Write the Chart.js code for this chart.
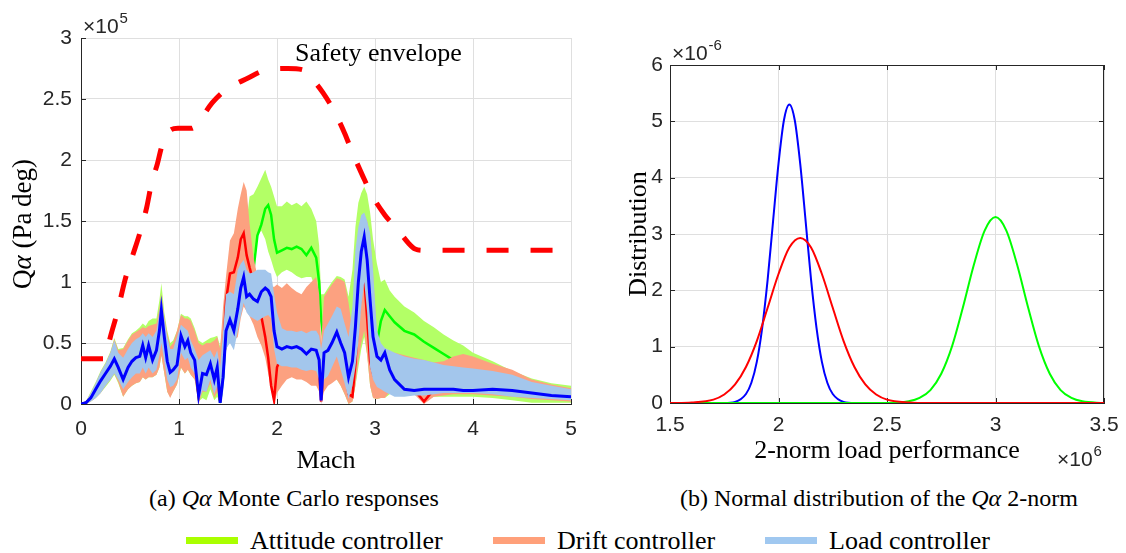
<!DOCTYPE html>
<html>
<head>
<meta charset="utf-8">
<title>Qα Monte Carlo responses</title>
<script src="https://cdn.jsdelivr.net/npm/chart.js@4.4.1/dist/chart.umd.min.js"></script>
<style>
  body { margin: 0; width: 1126px; height: 553px; background: #fff; position: relative; overflow: hidden;
         font-family: "Liberation Serif", "Times New Roman", serif; color: #000; }
  .panel { position: absolute; top: 0; height: 480px; }
  #panelA { left: 0; width: 600px; }
  #panelB { left: 600px; width: 526px; }
  .caption { position: absolute; top: 486px; font-family: "Liberation Serif", "Times New Roman", serif;
             font-size: 24px; line-height: 24px; white-space: nowrap; }
  .legend-text { position: absolute; top: 528px; font-family: "Liberation Serif", "Times New Roman", serif;
                 font-size: 26px; line-height: 26px; white-space: nowrap; }
  .swatch { position: absolute; top: 537px; width: 52px; height: 7px; }
</style>
</head>
<body>
<div class="panel" id="panelA"><canvas id="chartA"></canvas></div>
<div class="panel" id="panelB"><canvas id="chartB"></canvas></div>
<div class="caption" style="left:149px">(a) <i>Qα</i> Monte Carlo responses</div>
<div class="caption" style="left:680px">(b) Normal distribution of the <i>Qα</i> 2-norm</div>
<div id="legend"></div>

<script>
// ── (a) Monte Carlo bands, Qα in 1e5 Pa·deg over Mach ──
const machGrid = [
  0, 0.05, 0.1, 0.15, 0.2, 0.25, 0.3, 0.34, 0.38, 0.43,
  0.48, 0.52, 0.56, 0.6, 0.63, 0.66, 0.69, 0.73, 0.77, 0.8,
  0.82, 0.85, 0.88, 0.91, 0.94, 0.98, 1.02, 1.06, 1.09, 1.12,
  1.16, 1.2, 1.24, 1.28, 1.32, 1.36, 1.39, 1.42, 1.45, 1.48,
  1.52, 1.56, 1.6, 1.63, 1.66, 1.69, 1.72, 1.76, 1.8, 1.84,
  1.88, 1.91, 1.94, 1.97, 2.0, 2.05, 2.1, 2.15, 2.2, 2.25,
  2.3, 2.35, 2.4, 2.43, 2.45, 2.48, 2.52, 2.56, 2.61, 2.65,
  2.69, 2.73, 2.77, 2.8, 2.83, 2.86, 2.89, 2.92, 2.95, 2.98,
  3.02, 3.06, 3.1, 3.15, 3.2, 3.3, 3.4, 3.5, 3.6, 3.7,
  3.8, 3.9, 4.0, 4.2, 4.4, 4.6, 4.8, 5.0
];

// attitude controller
const attHigh = [
  0, 0.02, 0.1, 0.18, 0.27, 0.34, 0.43, 0.54, 0.45, 0.46,
  0.53, 0.58, 0.6, 0.63, 0.66, 0.64, 0.68, 0.7, 0.7, 0.85,
  0.99, 0.75, 0.6, 0.5, 0.52, 0.6, 0.74, 0.72, 0.72, 0.7,
  0.62, 0.52, 0.5, 0.52, 0.54, 0.55, 0.56, 0.47, 0.7, 0.95,
  1.0, 1.1, 1.2, 1.3, 1.4, 1.5, 1.7, 1.72, 1.78, 1.85,
  1.92, 1.84, 1.78, 1.7, 1.62, 1.62, 1.66, 1.63, 1.65, 1.62,
  1.66, 1.6, 1.5, 1.3, 0.9, 0.9, 0.95, 1.0, 1.05, 1.04,
  1.02, 0.88, 1.1, 1.45, 1.65, 1.73, 1.78, 1.72, 1.57, 1.35,
  1.15, 1.0, 1.02, 0.93, 0.88, 0.8, 0.75, 0.68, 0.63, 0.57,
  0.52, 0.48, 0.42, 0.35, 0.27, 0.21, 0.17, 0.15
];
const attLow = [
  0, 0, 0.02, 0.05, 0.09, 0.14, 0.19, 0.24, 0.17, 0.06,
  0.12, 0.15, 0.17, 0.18, 0.22, 0.2, 0.22, 0.22, 0.24, 0.3,
  0.4, 0.25, 0.1, 0.06, 0.1, 0.16, 0.3, 0.25, 0.28, 0.24,
  0.2, 0.02, 0.05, 0.03, 0.12, 0.03, 0.06, 0, 0.2, 0.44,
  0.55, 0.55, 0.6, 0.75, 0.85, 0.9, 1.0, 1.2, 1.38, 1.42,
  1.35, 1.25, 1.18, 1.1, 1.04, 1.08, 1.1, 1.08, 1.05, 1.03,
  1.04, 1.04, 0.93, 0.8, 0.6, 0.2, 0.2, 0.2, 0.2, 0.15,
  0.08, 0, 0.02, 0.15, 0.3, 0.45, 0.55, 0.4, 0.15, 0.05,
  0.04, 0.05, 0.05, 0.08, 0.1, 0.1, 0.08, 0.03, 0.06, 0.06,
  0.06, 0.06, 0.06, 0.05, 0.03, 0.01, 0.01, 0.01
];
const attMean = [
  0, 0.01, 0.05, 0.12, 0.19, 0.25, 0.31, 0.37, 0.3, 0.2,
  0.3, 0.35, 0.38, 0.39, 0.48, 0.38, 0.48, 0.36, 0.44, 0.6,
  0.77, 0.55, 0.35, 0.26, 0.28, 0.32, 0.56, 0.47, 0.52, 0.42,
  0.36, 0.07, 0.25, 0.24, 0.33, 0.2, 0.3, 0.01, 0.22, 0.6,
  0.7, 0.65, 0.8, 0.95, 1.0, 0.95, 1.0, 1.1, 1.38, 1.47,
  1.6, 1.63, 1.55, 1.35, 1.24, 1.26, 1.28, 1.27, 1.29, 1.27,
  1.22, 1.28, 1.2, 1.0, 0.69, 0.5, 0.5, 0.55, 0.6, 0.55,
  0.4, 0.3, 0.4, 0.7, 1.0, 1.1, 1.15, 1.0, 0.8, 0.6,
  0.5, 0.68, 0.77, 0.72, 0.67, 0.6, 0.57, 0.51, 0.46, 0.41,
  0.36, 0.3, 0.25, 0.2, 0.16, 0.12, 0.1, 0.08
];

// drift controller
const driftHigh = [
  0, 0.02, 0.09, 0.17, 0.26, 0.33, 0.42, 0.53, 0.44, 0.45,
  0.52, 0.57, 0.59, 0.61, 0.63, 0.62, 0.64, 0.65, 0.66, 0.78,
  0.9, 0.72, 0.58, 0.47, 0.5, 0.6, 0.73, 0.7, 0.7, 0.68,
  0.6, 0.5, 0.48, 0.5, 0.5, 0.52, 0.55, 0.45, 0.8, 1.05,
  1.34, 1.4, 1.6, 1.72, 1.82, 1.75, 1.48, 1.2, 1.05, 1.0,
  1.0, 0.98, 0.97, 0.96, 0.98, 0.95, 0.99, 0.95, 0.92, 0.9,
  0.96, 1.0, 1.04, 0.9, 0.5, 0.88, 0.93, 0.98, 1.03, 1.02,
  1.0, 0.83, 0.6, 1.1, 1.35, 1.5, 1.55, 1.5, 1.38, 1.08,
  0.55, 0.45, 0.44, 0.43, 0.42, 0.4, 0.38, 0.36, 0.34, 0.35,
  0.39, 0.41, 0.39, 0.33, 0.28, 0.2, 0.16, 0.13
];
const driftLow = [
  0, 0, 0.02, 0.05, 0.09, 0.15, 0.2, 0.25, 0.18, 0.06,
  0.12, 0.15, 0.17, 0.18, 0.22, 0.2, 0.22, 0.22, 0.24, 0.3,
  0.4, 0.25, 0.1, 0.05, 0.1, 0.16, 0.3, 0.25, 0.28, 0.24,
  0.2, 0, 0.1, 0.1, 0.17, 0.05, 0.1, 0, 0.2, 0.44,
  0.55, 0.52, 0.55, 0.7, 0.8, 0.76, 0.72, 0.65, 0.55, 0.48,
  0.38, 0.25, 0.12, 0, 0.09, 0.15, 0.2, 0.22, 0.2, 0.2,
  0.18, 0.15, 0.15, 0.1, 0, 0.1, 0.15, 0.17, 0.2, 0.15,
  0.08, 0, 0.02, 0.15, 0.35, 0.5, 0.6, 0.4, 0.15, 0.05,
  0.04, 0.05, 0.05, 0.1, 0.15, 0.12, 0.08, 0, 0.06, 0.07,
  0.08, 0.08, 0.08, 0.07, 0.06, 0.04, 0.03, 0.02
];
const driftMean = [
  0, 0.01, 0.05, 0.12, 0.19, 0.25, 0.31, 0.37, 0.3, 0.2,
  0.3, 0.35, 0.38, 0.4, 0.47, 0.4, 0.45, 0.4, 0.45, 0.55,
  0.72, 0.5, 0.3, 0.25, 0.28, 0.35, 0.55, 0.48, 0.5, 0.42,
  0.35, 0.07, 0.25, 0.25, 0.32, 0.22, 0.3, 0.02, 0.4, 0.85,
  1.07, 1.08, 1.2, 1.35, 1.4, 1.22, 1.12, 1.0, 0.88, 0.72,
  0.55, 0.38, 0.15, 0.03, 0.3, 0.4, 0.42, 0.42, 0.42, 0.4,
  0.4, 0.42, 0.4, 0.3, 0.02, 0.35, 0.4, 0.45, 0.55, 0.45,
  0.3, 0.08, 0.06, 0.33, 0.7, 0.95, 1.04, 0.7, 0.35, 0.25,
  0.3, 0.25, 0.3, 0.22, 0.18, 0.15, 0.12, 0.02, 0.12, 0.12,
  0.13, 0.13, 0.12, 0.12, 0.1, 0.08, 0.06, 0.05
];

// load controller
const loadHigh = [
  0, 0.02, 0.09, 0.17, 0.26, 0.33, 0.42, 0.52, 0.42, 0.38,
  0.45, 0.5, 0.53, 0.55, 0.58, 0.55, 0.58, 0.55, 0.6, 0.75,
  0.87, 0.7, 0.55, 0.45, 0.45, 0.55, 0.65, 0.62, 0.6, 0.52,
  0.45, 0.36, 0.4, 0.42, 0.44, 0.38, 0.44, 0.3, 0.6, 0.9,
  0.92, 0.9, 1.1, 1.15, 1.18, 1.1, 1.07, 1.08, 1.1, 1.1,
  1.1, 1.08, 1.07, 0.9, 0.75, 0.62, 0.6, 0.6, 0.59, 0.6,
  0.58, 0.6, 0.6, 0.56, 0.45, 0.6, 0.66, 0.72, 0.8, 0.78,
  0.66, 0.55, 0.8, 1.26, 1.45, 1.55, 1.57, 1.5, 1.4, 1.1,
  0.6, 0.5, 0.46, 0.44, 0.42, 0.39, 0.37, 0.36, 0.34, 0.32,
  0.31, 0.3, 0.29, 0.27, 0.24, 0.18, 0.15, 0.12
];
const loadLow = [
  0, 0, 0.02, 0.05, 0.09, 0.15, 0.2, 0.25, 0.2, 0.12,
  0.18, 0.22, 0.25, 0.25, 0.3, 0.25, 0.3, 0.25, 0.28, 0.4,
  0.5, 0.35, 0.2, 0.14, 0.15, 0.2, 0.42, 0.36, 0.38, 0.3,
  0.25, 0.03, 0.11, 0.1, 0.2, 0.08, 0.15, 0, 0.1, 0.45,
  0.5, 0.44, 0.6, 0.72, 0.83, 0.75, 0.72, 0.7, 0.68, 0.7,
  0.72, 0.73, 0.7, 0.45, 0.33, 0.31, 0.31, 0.3, 0.3, 0.28,
  0.27, 0.28, 0.27, 0.2, 0, 0.2, 0.23, 0.3, 0.39, 0.28,
  0.17, 0.04, 0.15, 0.3, 0.5, 0.8, 1.0, 0.75, 0.3, 0.2,
  0.14, 0.12, 0.1, 0.08, 0.06, 0.06, 0.07, 0.07, 0.08, 0.09,
  0.09, 0.09, 0.09, 0.08, 0.06, 0.05, 0.04, 0.03
];
const loadMean = [
  0, 0.01, 0.05, 0.12, 0.19, 0.25, 0.31, 0.37, 0.3, 0.2,
  0.3, 0.35, 0.38, 0.39, 0.48, 0.38, 0.48, 0.36, 0.44, 0.6,
  0.77, 0.55, 0.35, 0.26, 0.28, 0.32, 0.56, 0.47, 0.52, 0.42,
  0.36, 0.07, 0.25, 0.24, 0.33, 0.2, 0.3, 0.01, 0.22, 0.6,
  0.69, 0.6, 0.78, 0.95, 1.04, 0.88, 0.9, 0.86, 0.84, 0.92,
  0.95, 0.93, 0.88, 0.6, 0.47, 0.45, 0.47, 0.46, 0.47, 0.45,
  0.41, 0.45, 0.44, 0.36, 0.03, 0.42, 0.44, 0.5, 0.59, 0.5,
  0.42, 0.22, 0.35, 0.63, 1.0, 1.25, 1.37, 1.18, 0.85, 0.55,
  0.39, 0.36, 0.42, 0.28, 0.2, 0.12, 0.11, 0.12, 0.12, 0.12,
  0.12, 0.11, 0.11, 0.12, 0.11, 0.09, 0.07, 0.06
];

// safety envelope
const envMach = [
  0, 0.25, 0.27, 0.3, 0.37, 0.45, 0.52, 0.6, 0.67, 0.72, 0.78,
  0.82, 0.88, 0.99, 1.13, 1.18, 1.34, 1.47, 1.7, 1.9, 2.11,
  2.26, 2.34, 2.47, 2.59, 2.69, 2.77, 2.88, 2.97, 3.1, 3.23,
  3.34, 3.41, 3.5, 5.0
];
const envLimit = [
  0.37, 0.37, 0.45, 0.55, 0.75, 1.02, 1.2, 1.4, 1.61, 1.81, 1.97,
  2.1, 2.22, 2.26, 2.26, 2.29, 2.47, 2.57, 2.67, 2.74, 2.75,
  2.74, 2.68, 2.55, 2.39, 2.22, 2.06, 1.86, 1.71, 1.55, 1.43,
  1.32, 1.27, 1.26, 1.26
];

// ── (b) 2-norm distributions, x in 1e6, density in 1e-6 ──
const loadNormX = [1.5, 1.75, 1.8, 1.85, 1.875, 1.9, 1.925, 1.95, 1.975, 2.0,
  2.025, 2.05, 2.075, 2.1, 2.125, 2.15, 2.175, 2.2, 2.225, 2.25, 2.3, 2.35, 3.5];
const loadPdf = [0, 0, 0.02, 0.16, 0.36, 0.73, 1.34, 2.19, 3.23, 4.25,
  5.02, 5.3, 5.02, 4.25, 3.23, 2.19, 1.34, 0.73, 0.36, 0.16, 0.02, 0, 0];
const driftNormX = [1.5, 1.6, 1.7, 1.75, 1.8, 1.85, 1.9, 1.95, 2.0, 2.05, 2.1,
  2.15, 2.2, 2.25, 2.3, 2.35, 2.4, 2.45, 2.5, 2.6, 2.7, 3.5];
const driftPdf = [0, 0.01, 0.06, 0.15, 0.33, 0.64, 1.1, 1.69, 2.29, 2.76, 2.93,
  2.76, 2.29, 1.69, 1.1, 0.64, 0.33, 0.15, 0.06, 0.01, 0, 0];
const attNormX = [1.5, 2.5, 2.6, 2.65, 2.7, 2.75, 2.8, 2.85, 2.9, 2.95, 3.0,
  3.05, 3.1, 3.15, 3.2, 3.25, 3.3, 3.35, 3.4, 3.5];
const attPdf = [0, 0, 0.03, 0.09, 0.23, 0.52, 1.01, 1.7, 2.45, 3.06, 3.3,
  3.06, 2.45, 1.7, 1.01, 0.52, 0.23, 0.09, 0.03, 0];

const legendLabels = ['Attitude controller', 'Drift controller', 'Load controller'];

// ── styling ──
const SANS = '"Liberation Sans", Arial, sans-serif';
const SERIF = '"Liberation Serif", "Times New Roman", serif';
const AXIS = '#262626';
const GRID = '#dfdfdf';
const BAND = { att: '#b3ff66', drift: '#fca180', load: '#a3c6ec' };
const LINE = { att: '#00ff00', drift: '#ff0000', load: '#0000ff' };
const SWATCH = ['#aaff00', '#ffa07a', '#a0c8f0'];
const SWATCH_X = [186, 493, 765];

const pts = (xs, ys) => xs.map((x, i) => ({ x, y: ys[i] }));

const band = (hi, lo, color, order) => [
  { data: pts(machGrid, hi), fill: '+1', backgroundColor: color, borderWidth: 0, pointRadius: 0, order },
  { data: pts(machGrid, lo), fill: false, borderWidth: 0, pointRadius: 0, order }
];
const meanLine = (ys, color, width, order) => ({
  data: pts(machGrid, ys), borderColor: color, borderWidth: width, pointRadius: 0, fill: false, tension: 0, order
});

const axis = (min, max, step, pad, size, isX) => ({
  type: 'linear', min, max,
  ticks: {
    stepSize: step, padding: pad, color: AXIS, font: { family: SANS, size: 21 }, maxRotation: 0, autoSkip: false,
    callback: v => String(Number(v.toFixed(3)))   // 1 rather than 1.0
  },
  grid: { color: GRID, drawTicks: false, lineWidth: 1 },
  border: { color: AXIS, width: 1 },
  afterFit(s) {
    if (isX) s.height = size; else s.width = size;
    s.paddingLeft = s.paddingRight = s.paddingTop = s.paddingBottom = 0;
  }
});

// text pieces laid out one after another on a baseline
function runs(ctx, parts, x, y, align) {
  const widths = parts.map(([t, f]) => { ctx.font = f; return ctx.measureText(t).width; });
  const total = widths.reduce((a, b) => a + b, 0);
  let cx = align === 'center' ? x - total / 2 : x;
  ctx.textAlign = 'left';
  ctx.textBaseline = 'alphabetic';
  parts.forEach(([t, f], i) => { ctx.font = f; ctx.fillText(t, cx, y); cx += widths[i]; });
}
function rotatedRuns(ctx, parts, x, y) {
  ctx.save();
  ctx.translate(x, y);
  ctx.rotate(-Math.PI / 2);
  runs(ctx, parts, 0, 0, 'center');
  ctx.restore();
}
function exponent(ctx, x, y, power) {
  ctx.fillStyle = AXIS;
  ctx.font = `21px ${SANS}`;
  ctx.textAlign = 'left';
  ctx.textBaseline = 'alphabetic';
  ctx.fillText('×10', x, y);
  const w = ctx.measureText('×10').width;
  ctx.font = `15px ${SANS}`;
  ctx.fillText(power, x + w + 1, y - 10);
}
function innerTicks(chart, boxed) {
  const { ctx, chartArea: a, scales: { x, y } } = chart;
  ctx.save();
  ctx.strokeStyle = AXIS;
  ctx.lineWidth = 1;
  ctx.beginPath();
  x.ticks.forEach(t => {
    const p = Math.round(x.getPixelForValue(t.value)) + 0.5;
    ctx.moveTo(p, a.bottom); ctx.lineTo(p, a.bottom - 5);
    if (boxed) { ctx.moveTo(p, a.top); ctx.lineTo(p, a.top + 5); }
  });
  y.ticks.forEach(t => {
    const p = Math.round(y.getPixelForValue(t.value)) + 0.5;
    ctx.moveTo(a.left, p); ctx.lineTo(a.left + 5, p);
    if (boxed) { ctx.moveTo(a.right, p); ctx.lineTo(a.right - 5, p); }
  });
  if (boxed) {
    ctx.moveTo(a.left, a.top + 0.5); ctx.lineTo(a.right, a.top + 0.5);
    ctx.moveTo(a.right - 0.5, a.top); ctx.lineTo(a.right - 0.5, a.bottom);
  }
  ctx.stroke();
  ctx.restore();
}

const T26 = `26px ${SERIF}`;
const I26 = `italic 26px ${SERIF}`;

const decorA = {
  id: 'decorA',
  beforeDatasetsDraw(chart) { innerTicks(chart, false); },
  afterDraw(chart) {
    const ctx = chart.ctx;
    ctx.save();
    ctx.fillStyle = '#000';
    rotatedRuns(ctx, [['Q', `27px ${SERIF}`], ['α', `italic 27px ${SERIF}`], [' (Pa\u2009deg)', `27px ${SERIF}`]], 31, 224);
    runs(ctx, [['Mach', T26]], 326, 468, 'center');
    runs(ctx, [['Safety envelope', T26]], 295, 61);
    exponent(ctx, 83, 33, '5');
    ctx.restore();
  }
};

const decorB = {
  id: 'decorB',
  beforeDatasetsDraw(chart) { innerTicks(chart, true); },
  afterDraw(chart) {
    const ctx = chart.ctx;
    ctx.save();
    ctx.fillStyle = '#000';
    rotatedRuns(ctx, [['Distribution', T26]], 46, 234);
    runs(ctx, [['2-norm load performance', T26]], 287, 458, 'center');
    exponent(ctx, 72, 60, '-6');
    exponent(ctx, 457, 466, '6');
    ctx.restore();
  }
};

const common = {
  animation: false, responsive: true, maintainAspectRatio: false, events: [],
  plugins: { legend: { display: false }, tooltip: { enabled: false } }
};

new Chart(document.getElementById('chartA'), {
  type: 'line',
  data: {
    datasets: [
      ...band(attHigh, attLow, BAND.att, 12),
      meanLine(attMean, LINE.att, 2.5, 11),
      ...band(driftHigh, driftLow, BAND.drift, 10),
      meanLine(driftMean, LINE.drift, 2.5, 9),
      ...band(loadHigh, loadLow, BAND.load, 8),
      meanLine(loadMean, LINE.load, 3, 7),
      {
        data: pts(envMach, envLimit), borderColor: '#ff0000', borderWidth: 5, borderDash: [22, 22],
        borderCapStyle: 'butt', pointRadius: 0, fill: false, cubicInterpolationMode: 'monotone', order: 1
      }
    ]
  },
  options: {
    ...common,
    layout: { padding: { top: 38, right: 29, left: 0, bottom: 0 } },
    scales: { x: axis(0, 5, 1, 13, 76, true), y: axis(0, 3, 0.5, 9, 81, false) }
  },
  plugins: [decorA]
});

const pdfLine = (xs, ys, color, order) => ({
  data: pts(xs, ys), borderColor: color, borderWidth: 2, pointRadius: 0, fill: false,
  cubicInterpolationMode: 'monotone', order
});

new Chart(document.getElementById('chartB'), {
  type: 'line',
  data: {
    datasets: [
      pdfLine(driftNormX, driftPdf, LINE.drift, 1),
      pdfLine(attNormX, attPdf, LINE.att, 2),
      pdfLine(loadNormX, loadPdf, LINE.load, 3)
    ]
  },
  options: {
    ...common,
    layout: { padding: { top: 65, right: 22, left: 0, bottom: 0 } },
    scales: { x: axis(1.5, 3.5, 0.5, 10, 77, true), y: axis(0, 6, 1, 7, 70, false) }
  },
  plugins: [decorB]
});

// shared legend under both panels
const legend = document.getElementById('legend');
legendLabels.forEach((label, i) => {
  const sw = document.createElement('div');
  sw.className = 'swatch';
  sw.style.left = SWATCH_X[i] + 'px';
  sw.style.background = SWATCH[i];
  const tx = document.createElement('div');
  tx.className = 'legend-text';
  tx.style.left = (SWATCH_X[i] + 64) + 'px';
  tx.textContent = label;
  legend.append(sw, tx);
});
</script>
</body>
</html>
